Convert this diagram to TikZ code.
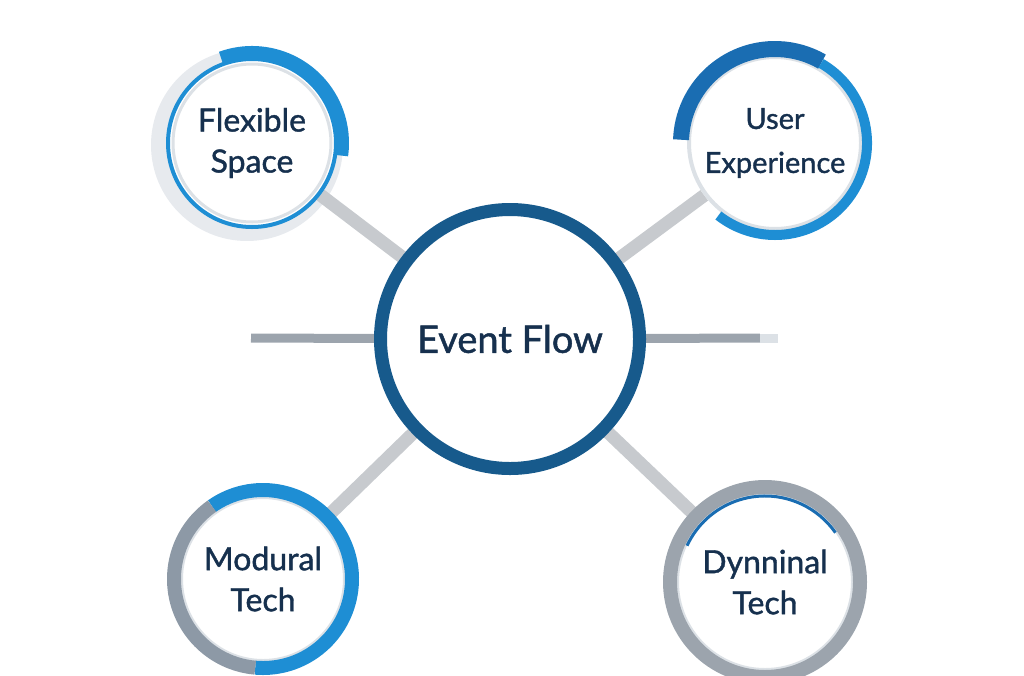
\documentclass[tikz,border=0pt]{standalone}
\usepackage{fontspec}
\setmainfont{Lato}[FakeBold=1.2]
\usepackage{xcolor}
\usepackage{tikz}
\usetikzlibrary{backgrounds}

\definecolor{hubblue}{HTML}{175A8C}
\definecolor{skyblue}{HTML}{1E8ED4}
\definecolor{deepblue}{HTML}{1A6DB2}
\definecolor{steelgray}{HTML}{8D99A6}
\definecolor{paleline}{HTML}{DCE1E6}
\definecolor{halogray}{HTML}{E7EAEE}
\definecolor{spokegray}{HTML}{C7CACE}
\definecolor{bargray}{HTML}{9CA4AD}
\definecolor{textnavy}{HTML}{16304E}

\begin{document}
\begin{tikzpicture}[
    x=1pt, y=1pt,
    hub/.style={circle, draw=hubblue, fill=white, line width=13pt, minimum size=259pt, inner sep=0pt, align=center, text=textnavy, font=\fontsize{38}{44}\selectfont},
    topic/.style={circle, draw=paleline, fill=white, line width=4pt, minimum size=168pt, inner sep=0pt, align=center, text=textnavy, font=\fontsize{32}{41}\selectfont},
    spoke/.style={line width=13pt, draw=spokegray},
    hbar/.style={line width=9pt, draw=bargray},
    halo/.style={fill=halogray, draw=none},
    bluering/.style={line width=10pt, draw=skyblue},
    grayring/.style={line width=14pt, draw=steelgray}
]
\useasboundingbox (0,0) rectangle (1024,-675);

% Centre and the four topics
\node[hub] (hub) at (510,-339) {Event Flow};
\node[topic, draw=skyblue] (flex) at (252,-143) {Flexible\\Space};
\node[topic, minimum size=172pt, font=\fontsize{29}{44}\selectfont] (ux) at (775,-143) {User\\Experience};
\node[topic, minimum size=164pt] (mod) at (263,-579) {Modural\\Tech};
\node[topic, minimum size=176pt] (dyn) at (765,-582) {Dynninal\\Tech};

% Free ends of the side bars
\coordinate (leftend) at (251,-338);
\coordinate (rightend) at (760,-338);
\coordinate (rightfade) at (778,-338);

% Connectors behind the circles
\begin{scope}[on background layer]
\fill[halo] ([shift={(-5pt,-2pt)}]flex.center) circle[radius=96pt];
\draw[spoke] (hub) -- (flex);
\draw[spoke] (hub) -- (ux);
\draw[spoke] (hub) -- (mod);
\draw[spoke] (hub) -- (dyn);
\draw[hbar] (leftend) -- (hub);
\draw[hbar] (hub) -- (rightend);
\draw[hbar, draw=paleline] (rightend) -- (rightfade);
\end{scope}

% Rings round the topics
\draw[paleline, line width=3pt] (flex.center) circle[radius=79pt];
\draw[bluering, line width=12pt] (flex.center) ++(110:91pt) arc[start angle=110, end angle=-8, radius=91pt];
\draw[bluering, draw=deepblue, line width=16pt] (ux.center) ++(178:94pt) arc[start angle=178, end angle=60, radius=94pt];
\draw[bluering] (ux.center) ++(60:92pt) arc[start angle=60, end angle=-128, radius=92pt];
\draw[grayring, draw=skyblue] (mod.center) ++(125:89pt) arc[start angle=125, end angle=-95, radius=89pt];
\draw[grayring] (mod.center) ++(125:89pt) arc[start angle=125, end angle=265, radius=89pt];
\draw[grayring, draw=bargray] (dyn.center) circle[radius=95pt];
\draw[deepblue, line width=3pt] (dyn.center) ++(155:86pt) arc[start angle=155, end angle=35, radius=86pt];

\end{tikzpicture}
\end{document}
